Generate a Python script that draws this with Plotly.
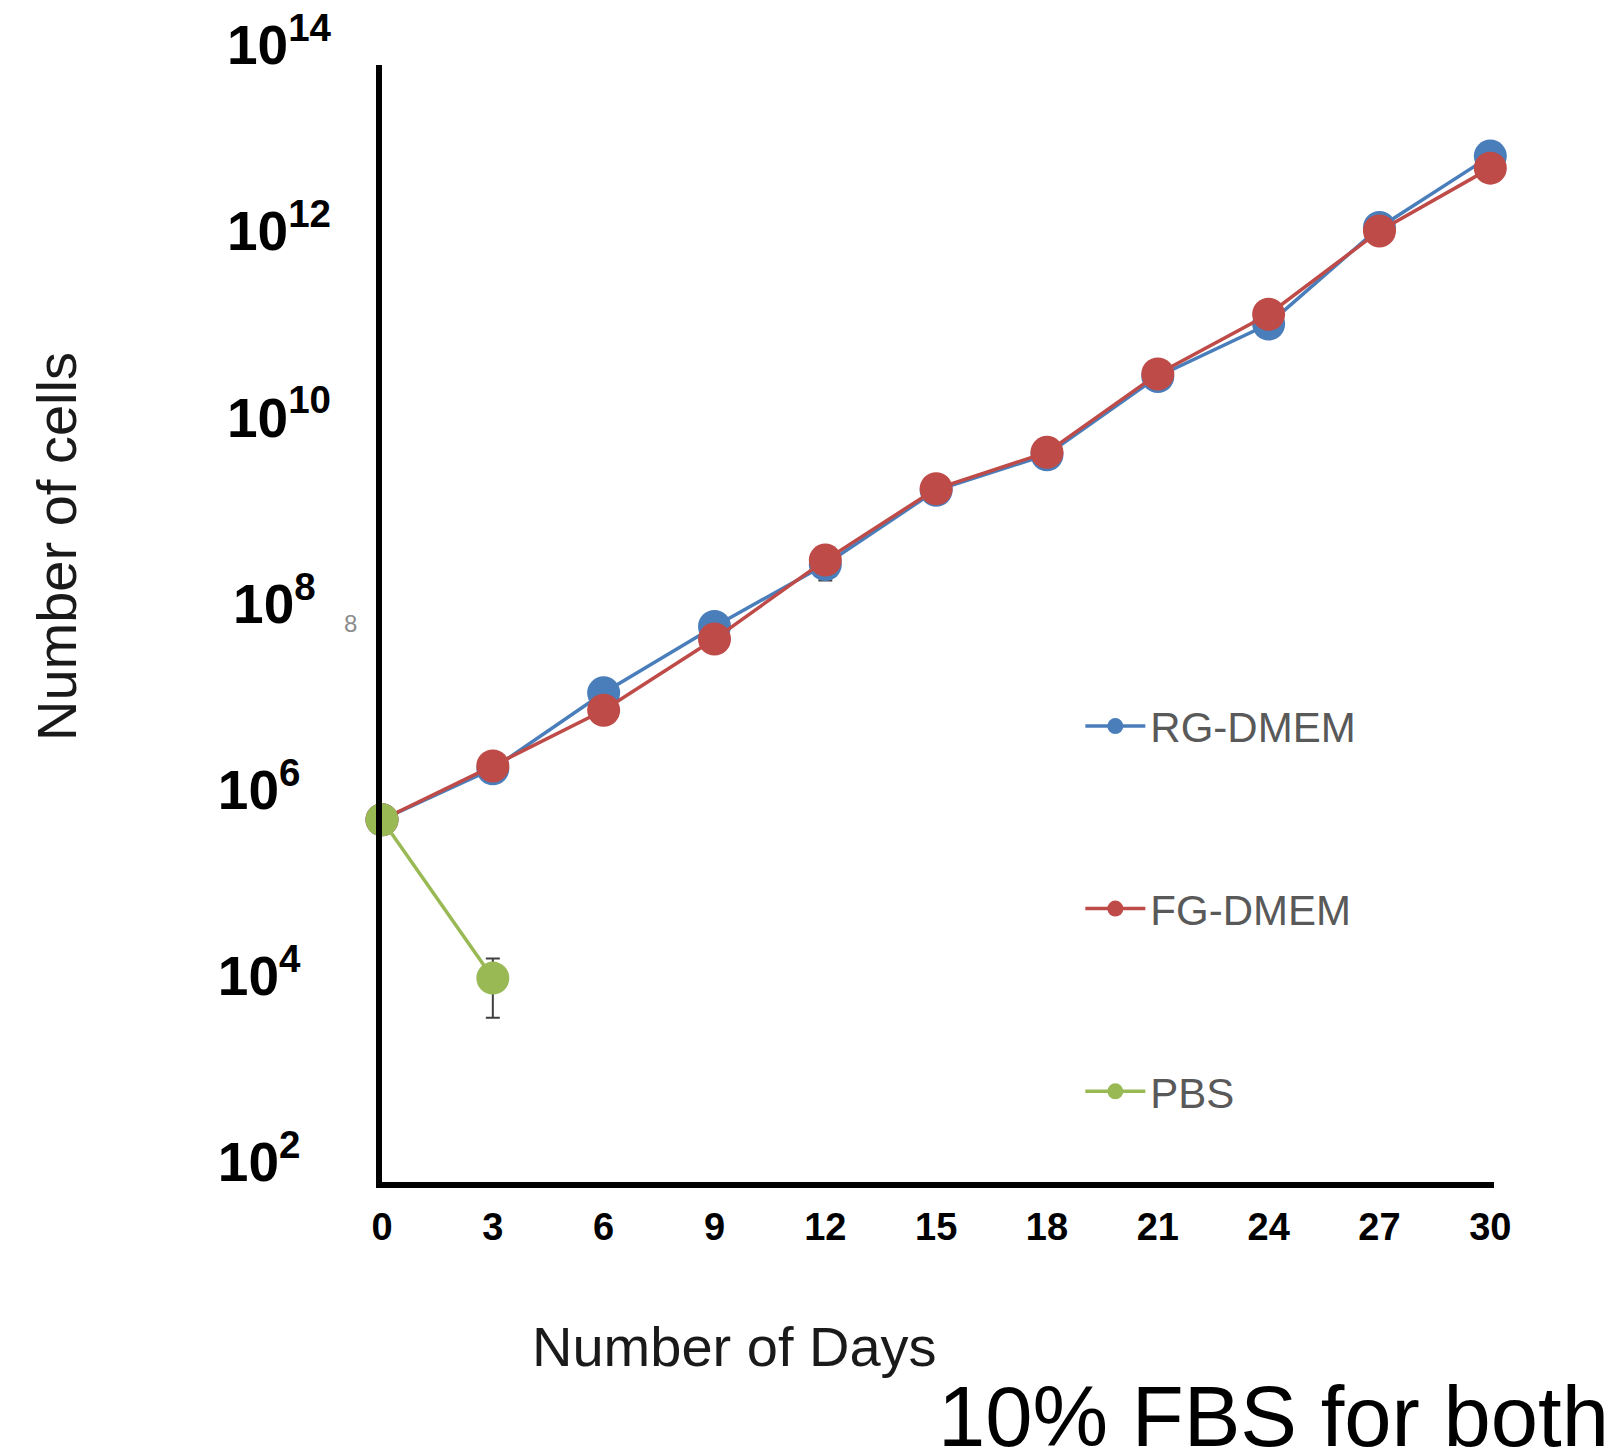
import plotly.graph_objects as go

days = [0, 3, 6, 9, 12, 15, 18, 21, 24, 27, 30]
rg_dmem = [7.8e5, 2.75e6, 1.8e7, 9.3e7, 4.3e8, 2.7e9, 6.5e9, 4.5e10, 1.65e11, 1.8e12, 1.05e13]
rg_err = [0, 0, 0, 0, 1.4e8, 0, 0, 0, 0, 0, 0]
fg_dmem = [7.8e5, 2.95e6, 1.17e7, 6.8e7, 4.8e8, 2.8e9, 6.9e9, 4.8e10, 2.1e11, 1.65e12, 7.8e12]
pbs_days = [0, 3]
pbs = [7.8e5, 1.55e4]
pbs_err = [0, 9700]

x_ticks = [0, 3, 6, 9, 12, 15, 18, 21, 24, 27, 30]
y_tickvals = [1e2, 1e4, 1e6, 1e8, 1e10, 1e12, 1e14]
NB = "\u00a0"
y_ticktext = ["10<sup>2</sup>" + NB * 2, "10<sup>4</sup>" + NB * 2, "10<sup>6</sup>" + NB * 2,
              "10<sup>8</sup>" + NB, "10<sup>10</sup>", "10<sup>12</sup>", "10<sup>14</sup>"]

BLUE = "#4A7EBB"
RED = "#BE4B48"
GREEN = "#98B954"
FONT = "Liberation Sans, Arial, sans-serif"

fig = go.Figure()
fig.add_trace(go.Scatter(
    x=days, y=rg_dmem, name="RG-DMEM", mode="lines+markers",
    line=dict(color=BLUE, width=3.5), marker=dict(color=BLUE, size=33),
    error_y=dict(type="data", array=rg_err, color="#404040", thickness=2, width=7),
    cliponaxis=False, legend="legend", showlegend=True))
fig.add_trace(go.Scatter(
    x=days, y=fg_dmem, name="FG-DMEM", mode="lines+markers",
    line=dict(color=RED, width=3.5), marker=dict(color=RED, size=33),
    cliponaxis=False, legend="legend2", showlegend=True))
fig.add_trace(go.Scatter(
    x=pbs_days, y=pbs, name="PBS", mode="lines+markers",
    line=dict(color=GREEN, width=3.5), marker=dict(color=GREEN, size=33),
    error_y=dict(type="data", array=pbs_err, color="#404040", thickness=2, width=7),
    cliponaxis=False, legend="legend3", showlegend=True))

leg_common = dict(font=dict(family=FONT, size=42, color="#595959"),
                  bgcolor="rgba(0,0,0,0)", xanchor="left", yanchor="middle",
                  itemsizing="trace", itemwidth=60, visible=True)
fig.update_layout(
    width=1611, height=1444,
    margin=dict(l=374, r=125, t=57, b=270, autoexpand=False),
    paper_bgcolor="white", plot_bgcolor="white",
    font=dict(family=FONT),
    showlegend=True,
    legend=dict(x=0.628, y=0.408, **leg_common),
    legend2=dict(x=0.628, y=0.2446, **leg_common),
    legend3=dict(x=0.628, y=0.081, **leg_common),
    xaxis=dict(range=[0, 30.1], tickvals=x_ticks, ticktext=[str(v) for v in x_ticks],
               showgrid=False, zeroline=False, showline=True, linecolor="black",
               linewidth=6, ticks="", ticklabelstandoff=6, automargin=False,
               ticklabeloverflow="allow",
               tickfont=dict(family=FONT, size=38, color="black", weight="bold")),
    yaxis=dict(type="log", range=[2, 14], tickvals=y_tickvals, ticktext=y_ticktext,
               showgrid=False, zeroline=False, showline=True, linecolor="black",
               linewidth=6, ticks="", ticklabelstandoff=34, ticklabelshift=-20,
               automargin=False, ticklabeloverflow="allow",
               tickfont=dict(family=FONT, size=55, color="black", weight="bold")),
    annotations=[
        dict(text="Number of Days", xref="paper", yref="paper", x=0.317, y=-0.1477,
             xanchor="center", yanchor="middle", showarrow=False,
             font=dict(family=FONT, size=56, color="#1a1a1a")),
        dict(text="Number of cells", xref="paper", yref="paper", x=-0.2922, y=0.5685,
             xanchor="center", yanchor="middle", textangle=-90, showarrow=False,
             font=dict(family=FONT, size=56, color="#1a1a1a")),
        dict(text="10% FBS for both", xref="paper", yref="paper", x=1.105, y=-0.21,
             xanchor="right", yanchor="middle", showarrow=False,
             font=dict(family=FONT, size=85, color="black")),
        dict(text="8", xref="paper", yref="y", x=-0.028, y=8,
             xanchor="center", yanchor="middle", showarrow=False,
             font=dict(family=FONT, size=24, color="#8c8c8c")),
    ],
)
fig.write_html("out.html")
